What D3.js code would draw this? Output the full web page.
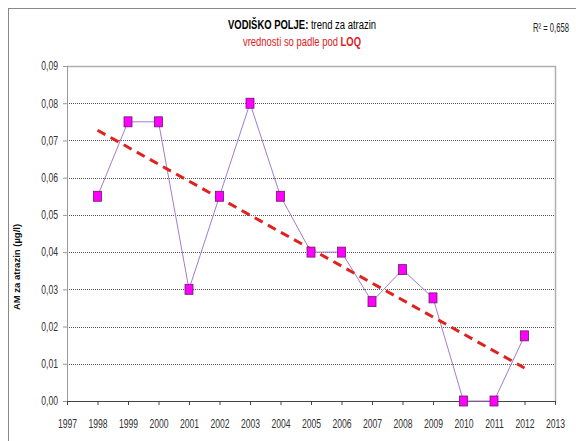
<!DOCTYPE html>
<html>
<head>
<meta charset="utf-8">
<script src="https://cdn.jsdelivr.net/npm/d3@7"></script>
<style>
  body { margin: 0; background: #fff; }
  svg text { font-family: "Liberation Sans", Arial, sans-serif; }
</style>
</head>
<body>
<svg id="chart" width="576" height="441"></svg>
<script>
// data
const years = [1998, 1999, 2000, 2001, 2002, 2003, 2004, 2005, 2006, 2007, 2008, 2009, 2010, 2011, 2012];
const values = [0.055, 0.075, 0.075, 0.030, 0.055, 0.080, 0.055, 0.040, 0.040, 0.0267, 0.0353, 0.0277, 0.0, 0.0, 0.0175];
const yTicks = [0, 0.01, 0.02, 0.03, 0.04, 0.05, 0.06, 0.07, 0.08, 0.09];
const xTicks = d3.range(1997, 2014);
const rSquared = "R² = 0,658";

(function () {
    const svg = d3.select("#chart");
    const fmt = d => d.toFixed(2).replace(".", ",");
    const narrow = 0.72; // fake a narrow font by squeezing horizontally

    // outer chart frame (only top/left visible in the picture)
    svg.append("rect")
        .attr("x", 8.5).attr("y", 8.5)
        .attr("width", 600).attr("height", 500)
        .attr("fill", "none").attr("stroke", "#888").attr("stroke-width", 1);

    const x = d3.scaleLinear().domain([1997, 2013]).range([67, 555]);
    const y = d3.scaleLinear().domain([0, 0.09]).range([401, 66]);

    // grid lines
    svg.append("g").selectAll("line")
        .data(yTicks.filter(t => t > 0 && t < 0.09))
        .enter().append("line")
        .attr("x1", x(1997)).attr("x2", x(2013))
        .attr("y1", d => Math.round(y(d)) + 0.5).attr("y2", d => Math.round(y(d)) + 0.5)
        .attr("stroke", "#555").attr("stroke-width", 1)
        .attr("stroke-dasharray", "1,1");

    // plot area top / right border
    svg.append("path")
        .attr("d", `M${x(1997)},${Math.round(y(0.09)) + 0.5}H${x(2013) + 0.5}V${y(0)}`)
        .attr("fill", "none").attr("stroke", "#b0b0b0").attr("stroke-width", 1.5);

    // y axis
    const yAxis = svg.append("g")
        .attr("transform", `translate(${x(1997)},0)`)
        .call(d3.axisLeft(y).tickValues(yTicks).tickFormat(fmt).tickSize(4).tickPadding(5));
    yAxis.select(".domain").attr("stroke", "#999");
    yAxis.selectAll(".tick line").attr("stroke", "#999");
    yAxis.selectAll("text")
        .attr("font-size", 12).attr("fill", "#333")
        .attr("x", -9 / narrow)
        .attr("transform", `scale(${narrow},1)`);

    // x axis
    const xAxis = svg.append("g")
        .attr("transform", `translate(0,${y(0)})`)
        .call(d3.axisBottom(x).tickValues(xTicks).tickFormat(d3.format("d")).tickSize(4).tickPadding(14));
    xAxis.select(".domain").attr("stroke", "#444");
    xAxis.selectAll(".tick line").attr("stroke", "#444");
    xAxis.selectAll("text")
        .attr("font-size", 12).attr("fill", "#333")
        .attr("transform", `scale(${narrow},1)`);

    // data line
    const line = d3.line().x((d, i) => x(years[i])).y(d => y(d));
    svg.append("path")
        .datum(values)
        .attr("d", line)
        .attr("fill", "none").attr("stroke", "#a57bc8").attr("stroke-width", 1);

    // linear trend (least squares)
    const xm = d3.mean(years), ym = d3.mean(values);
    const slope = d3.sum(years, (v, i) => (v - xm) * (values[i] - ym)) / d3.sum(years, v => (v - xm) ** 2);
    const trendY = v => ym + slope * (v - xm);
    const x0 = years[0], x1 = years[years.length - 1];
    svg.append("line")
        .attr("x1", x(x0)).attr("y1", y(trendY(x0)))
        .attr("x2", x(x1)).attr("y2", y(trendY(x1)))
        .attr("stroke", "#e0221e").attr("stroke-width", 3)
        .attr("stroke-dasharray", "9,6");

    // markers
    svg.append("g").selectAll("rect")
        .data(values)
        .enter().append("rect")
        .attr("x", (d, i) => x(years[i]) - 4)
        .attr("y", d => y(d) - 5)
        .attr("width", 8).attr("height", 10)
        .attr("fill", "#ff00ff").attr("stroke", "#6a1a6a").attr("stroke-width", 0.8);

    // titles
    const t1 = svg.append("text")
        .attr("transform", `translate(302,29) scale(0.7,1)`)
        .attr("text-anchor", "middle").attr("font-size", 13.5).attr("fill", "#000");
    t1.append("tspan").attr("font-weight", "bold").text("VODIŠKO POLJE:");
    t1.append("tspan").text(" trend za atrazin");

    const t2 = svg.append("text")
        .attr("transform", `translate(302,46) scale(0.7,1)`)
        .attr("text-anchor", "middle").attr("font-size", 13.5).attr("fill", "#e0201e");
    t2.append("tspan").text("vrednosti so padle pod ");
    t2.append("tspan").attr("font-weight", "bold").text("LOQ");

    svg.append("text")
        .attr("transform", `translate(533,32) scale(0.64,1)`)
        .attr("font-size", 12).attr("fill", "#222")
        .text(rSquared);

    // y axis title
    svg.append("text")
        .attr("transform", `translate(20,${y(0.036)}) rotate(-90)`)
        .attr("text-anchor", "middle")
        .attr("font-size", 9.5).attr("font-weight", "bold")
        .attr("fill", "#111")
        .text("AM za atrazin (µg/l)");
})();
</script>
</body>
</html>
